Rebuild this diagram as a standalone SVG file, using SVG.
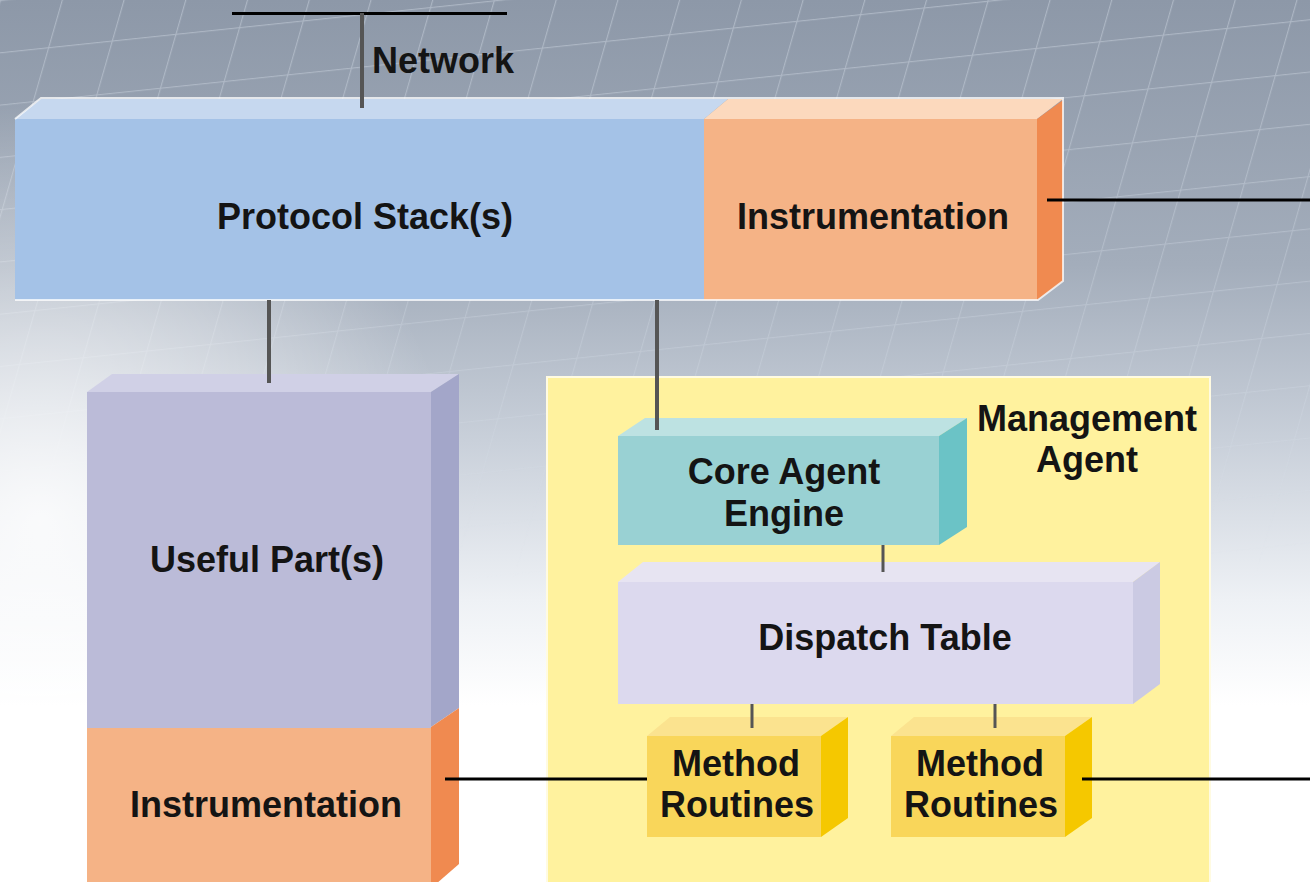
<svg xmlns="http://www.w3.org/2000/svg" width="1310" height="882" viewBox="0 0 1310 882">
  <defs>
    <linearGradient id="bg" x1="0" y1="0" x2="0" y2="1">
      <stop offset="0" stop-color="#8d98a8"/>
      <stop offset="0.3" stop-color="#a3adbb"/>
      <stop offset="0.5" stop-color="#c9d0da"/>
      <stop offset="0.68" stop-color="#eef1f5"/>
      <stop offset="0.8" stop-color="#ffffff"/>
      <stop offset="1" stop-color="#ffffff"/>
    </linearGradient>
    <radialGradient id="glow" cx="40" cy="520" r="420" gradientUnits="userSpaceOnUse">
      <stop offset="0" stop-color="#ffffff" stop-opacity="0.85"/>
      <stop offset="0.6" stop-color="#ffffff" stop-opacity="0.35"/>
      <stop offset="1" stop-color="#ffffff" stop-opacity="0"/>
    </radialGradient>
    <linearGradient id="fade" x1="0" y1="0" x2="0" y2="1">
      <stop offset="0" stop-color="#fff" stop-opacity="1"/>
      <stop offset="0.45" stop-color="#fff" stop-opacity="0.6"/>
      <stop offset="0.66" stop-color="#fff" stop-opacity="0"/>
    </linearGradient>
    <mask id="gridMask" maskUnits="userSpaceOnUse" x="0" y="0" width="1310" height="882">
      <rect width="1310" height="882" fill="url(#fade)"/>
    </mask>
    <pattern id="grid" width="64" height="52" patternUnits="userSpaceOnUse" patternTransform="rotate(-6) skewX(-22)">
      <path d="M0 0H64M0 0V52" fill="none" stroke="#dde4ee" stroke-width="2.5" opacity="0.4"/>
    </pattern>
    <style>
      .lbl { font-family: "Liberation Sans", Arial, sans-serif; font-weight: bold; font-size: 36px; fill: #141414; text-anchor: middle; }
      .edge { fill: none; stroke: #ffffff; stroke-opacity: 0.75; stroke-width: 2; }
      .blk { stroke: #000; stroke-width: 3; fill: none; }
      .gry { stroke: #555; stroke-width: 4; fill: none; }
      .gry3 { stroke: #555; stroke-width: 3; fill: none; }
    </style>
  </defs>

  <!-- background -->
  <rect width="1310" height="882" fill="url(#bg)"/>
  <rect width="1310" height="882" fill="url(#grid)" mask="url(#gridMask)"/>
  <rect width="1310" height="882" fill="url(#glow)"/>

  <!-- Management Agent area -->
  <g id="management-agent">
    <rect x="547" y="377" width="663" height="507" fill="#fff29e" stroke="#fffbe2" stroke-width="2"/>
    <text class="lbl" x="1087" y="431">Management</text>
    <text class="lbl" x="1087" y="472">Agent</text>
  </g>

  <!-- Protocol Stack(s) + Instrumentation (top) -->
  <g id="protocol-stack">
    <polygon points="15,119 41,99 728,99 704,119" fill="#c6d8ef"/>
    <rect x="15" y="119" width="689" height="181" fill="#a4c2e7"/>
    <text class="lbl" x="365" y="229">Protocol Stack(s)</text>
  </g>
  <g id="instrumentation-top">
    <polygon points="704,119 728,99 1063,99 1037,119" fill="#fcd9bd"/>
    <rect x="704" y="119" width="333" height="181" fill="#f5b386"/>
    <polygon points="1037,119 1063,100 1063,281 1037,300" fill="#f08a50"/>
    <polyline class="edge" points="15,119 41,98 1063,98 1063,281 1038,300 15,300"/>
    <text class="lbl" x="873" y="229">Instrumentation</text>
  </g>

  <!-- Useful Part(s) + Instrumentation (bottom) -->
  <g id="useful-parts">
    <polygon points="87,392 112,374 459,374 431,392" fill="#d0d0e6"/>
    <rect x="87" y="392" width="344" height="336" fill="#bbbbd8"/>
    <polygon points="431,392 459,374 459,708 431,727" fill="#a3a6c9"/>
    <text class="lbl" x="267" y="572">Useful Part(s)</text>
  </g>
  <g id="instrumentation-bottom">
    <rect x="87" y="728" width="344" height="156" fill="#f5b386"/>
    <polygon points="431,727 459,708 459,864 436,884 431,884" fill="#f08a50"/>
    <polyline class="edge" points="460,708 460,864" stroke="#fde0c8"/>
    <text class="lbl" x="266" y="817">Instrumentation</text>
  </g>

  <!-- Core Agent Engine -->
  <g id="core-agent-engine">
    <polygon points="618,436 645,418 967,418 939,436" fill="#bde2e2"/>
    <rect x="618" y="436" width="321" height="109" fill="#99d1d3"/>
    <polygon points="939,436 967,418 967,527 939,545" fill="#6bc3c6"/>
    <text class="lbl" x="784" y="484">Core Agent</text>
    <text class="lbl" x="784" y="526">Engine</text>
  </g>

  <!-- Dispatch Table -->
  <g id="dispatch-table">
    <polygon points="618,582 643,562 1160,562 1133,582" fill="#e7e4f2"/>
    <rect x="618" y="582" width="515" height="122" fill="#dcd9ee"/>
    <polygon points="1133,582 1160,562 1160,684 1133,704" fill="#cbcae3"/>
    <text class="lbl" x="885" y="650">Dispatch Table</text>
  </g>

  <!-- Method Routines 1 -->
  <g id="method-routines-1">
    <polygon points="647,736 670,717 848,717 821,736" fill="#fbe38f"/>
    <rect x="647" y="736" width="174" height="101" fill="#f9d65a"/>
    <polygon points="821,736 848,717 848,818 821,837" fill="#f5c800"/>
    <text class="lbl" x="736" y="776">Method</text>
    <text class="lbl" x="737" y="817">Routines</text>
  </g>

  <!-- Method Routines 2 -->
  <g id="method-routines-2">
    <polygon points="891,736 914,717 1092,717 1065,736" fill="#fbe38f"/>
    <rect x="891" y="736" width="174" height="101" fill="#f9d65a"/>
    <polygon points="1065,736 1092,717 1092,818 1065,837" fill="#f5c800"/>
    <text class="lbl" x="980" y="776">Method</text>
    <text class="lbl" x="981" y="817">Routines</text>
  </g>

  <!-- Network label -->
  <g id="network">
    <text class="lbl" x="372" y="73" style="text-anchor:start">Network</text>
  </g>

  <!-- connectors -->
  <g id="connectors">
    <line class="blk" x1="232" y1="13.5" x2="507" y2="13.5"/>
    <line class="gry" x1="362" y1="13" x2="362" y2="108"/>
    <line class="gry" x1="269" y1="300" x2="269" y2="383"/>
    <line class="gry" x1="657" y1="300" x2="657" y2="430"/>
    <line class="gry3" x1="883" y1="545" x2="883" y2="572"/>
    <line class="gry3" x1="752" y1="704" x2="752" y2="728"/>
    <line class="gry3" x1="995" y1="704" x2="995" y2="728" stroke="#222"/>
    <line class="blk" x1="1047" y1="200" x2="1310" y2="200"/>
    <line class="blk" x1="445" y1="779" x2="647" y2="779"/>
    <line class="blk" x1="1082" y1="779" x2="1310" y2="779"/>
  </g>
</svg>
